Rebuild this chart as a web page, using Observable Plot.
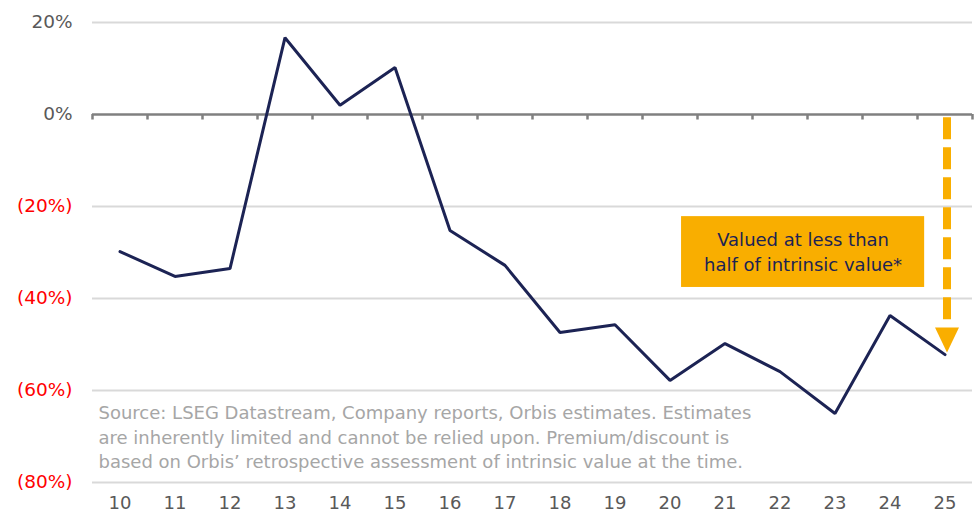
<!DOCTYPE html>
<html><head><meta charset="utf-8">
<script src="https://cdn.jsdelivr.net/npm/d3@7"></script>
<script src="https://cdn.jsdelivr.net/npm/@observablehq/plot@0.6"></script>
<style>body{margin:0;background:#fff;} svg{display:block;}</style>
</head><body><div id="chart"></div>
<script>
const years = [10,11,12,13,14,15,16,17,18,19,20,21,22,23,24,25];
const premium = [-29.8,-35.2,-33.5,16.7,2,10.2,-25.2,-32.8,-47.4,-45.7,-57.8,-49.8,-55.9,-65,-43.7,-52.2];
const yTicks = [20,0,-20,-40,-60,-80];
const yTickLabels = ["20%","0%","(20%)","(40%)","(60%)","(80%)"];
const annotationLines = ["Valued at less than","half of intrinsic value*"];
const sourceLines = [
  "Source: LSEG Datastream, Company reports, Orbis estimates. Estimates",
  "are inherently limited and cannot be relied upon. Premium/discount is",
  "based on Orbis\u2019 retrospective assessment of intrinsic value at the time."
];
const data = years.map((y,i)=>({year:y, value:premium[i]}));
const boundaries = years.map(y=>y-0.5).concat([years[years.length-1]+0.5]);
const gridTicks = yTicks.filter(d=>d!==0);
const yLab = yTicks.map((t,i)=>({t, label:yTickLabels[i]}));

const font = "'DejaVu Sans', sans-serif";
const navy = "#1c2354";
const amber = "#F9AE00";
const arrowHead = {draw(ctx){ ctx.moveTo(-12,0); ctx.lineTo(12,0); ctx.lineTo(0,25); ctx.closePath(); }};

const chart = Plot.plot({
  width: 976, height: 517,
  marginLeft: 92, marginRight: 4, marginTop: 22, marginBottom: 35,
  style: {fontFamily: font, background: "#fff"},
  x: {type: "linear", domain: [9.5, 25.5], axis: null},
  y: {domain: [-80, 20], axis: null},
  marks: [
    Plot.ruleY(gridTicks, {stroke: "#d9d9d9", strokeWidth: 2}),
    Plot.text([sourceLines.join("\n")], {x: 9.5, y: -69.9, text: d=>d, textAnchor: "start", dx: 6,
      fontSize: 18, fill: "#a6a6a6", lineHeight: 1.36}),
    Plot.ruleY([0], {stroke: "#808080", strokeWidth: 2.5}),
    Plot.ruleX(boundaries, {y1: 0, y2: -1.2, stroke: "#808080", strokeWidth: 2.5}),
    Plot.rect([{x1: 20.21, x2: 24.63, y1: -22.2, y2: -37.6}], {x1:"x1", x2:"x2", y1:"y1", y2:"y2", fill: amber}),
    Plot.text([annotationLines.join("\n")], {x: 22.42, y: -29.5, text: d=>d, fontSize: 18, fill: navy, lineHeight: 1.39}),
    Plot.ruleX([25], {y1: -0.7, y2: -46.3, stroke: amber, strokeWidth: 8, strokeDasharray: "22,8", dx: 2}),
    Plot.dot([25], {x: d=>d, y: -46.3, symbol: arrowHead, r: 10, fill: amber, stroke: "none", dx: 2}),
    Plot.line(data, {x: "year", y: "value", stroke: navy, strokeWidth: 3, strokeLinejoin: "miter"}),
    Plot.text(yLab, {y: "t", text: "label", frameAnchor: "left", dx: -20, textAnchor: "end", fontSize: 18.5,
      fill: d => d.t < 0 ? "#ff0000" : "#595959"}),
    Plot.text(years, {x: d=>d, frameAnchor: "bottom", dy: 26, text: d=>String(d), fontSize: 18, fill: "#595959"})
  ]
});
document.getElementById("chart").appendChild(chart);
</script></body></html>
